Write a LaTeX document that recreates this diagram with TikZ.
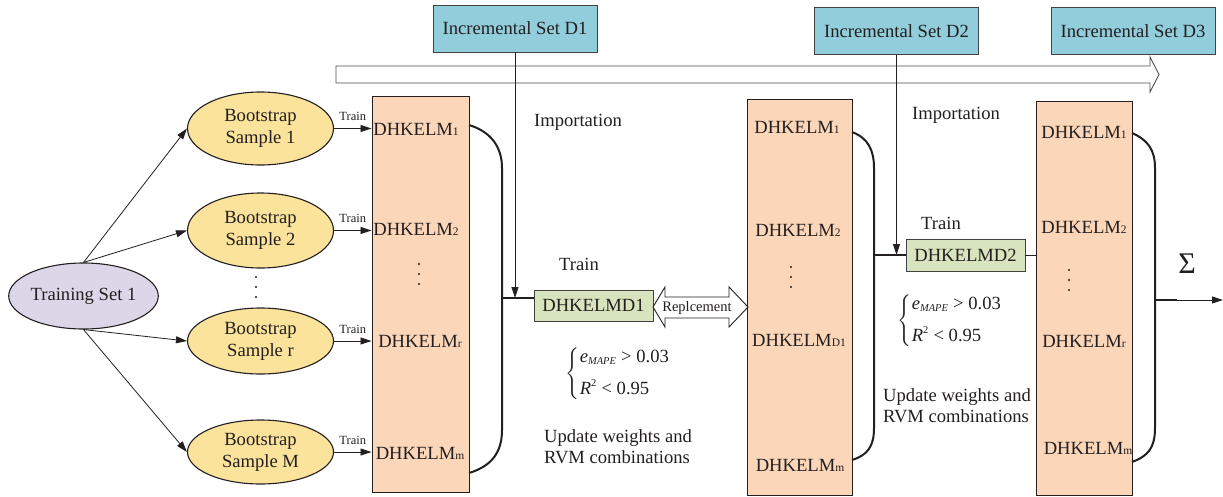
\documentclass[tikz,border=0pt]{standalone}
\usepackage{fontspec}
\setmainfont{Liberation Serif}
\usepackage{amsmath}
\usetikzlibrary{shapes.geometric,arrows.meta}
\definecolor{ink}{HTML}{231F20}
\definecolor{lav}{HTML}{DCD7E8}
\definecolor{boot}{HTML}{FBE39C}
\definecolor{peach}{HTML}{FBD6B8}
\definecolor{incb}{HTML}{92CDDC}
\definecolor{mdg}{HTML}{D7E4BD}
\newcommand\dk[1]{DHKELM{\fontsize{11.5}{11.5}\selectfont #1}}
\newcommand\conds{$\left\{\rule[-22pt]{0pt}{50pt}\begin{array}{@{}l@{}}
  \text{\textit{e}}_{\text{\fontsize{10.5}{10.5}\selectfont\textit{MAPE}}}\ \text{> 0.03}\\[10pt]
  \text{\textit{R}}^{\text{\fontsize{10.5}{10.5}\selectfont 2}}\ \text{< 0.95}
  \end{array}\right.$}
\begin{document}
\begin{tikzpicture}[x=1pt,y=-1pt,
  every node/.style={inner sep=0pt,text=ink},
  fz/.style={font=\fontsize{18.6}{22}\selectfont},
  smallfz/.style={font=\fontsize{12.5}{14}\selectfont},
  ellbox/.style={ellipse,draw=ink,line width=1.1pt,minimum width=146pt,
    minimum height=70pt,align=center,fz},
  colbox/.style={draw=ink,line width=0.9pt,fill=peach},
  incbox/.style={draw=ink!85,line width=0.9pt,fill=incb,minimum width=164pt,
    minimum height=47pt,fz},
  mdbox/.style={draw=ink!85,line width=0.9pt,fill=mdg,minimum width=119pt,
    minimum height=31pt,fz},
  arr/.style={-{Triangle[length=11pt,width=7pt]},line width=0.8pt,draw=ink},
  thickln/.style={line width=2.3pt,draw=ink},
  brk/.style={line width=2pt,draw=ink},
  lbl/.style={fz},
  twoline/.style={align=left,font=\fontsize{18.6}{21}\selectfont},
  dotmark/.style={fill=ink,radius=1.2pt}]
\useasboundingbox (0,0) rectangle (1223,496);

% wide hollow progress arrow
\draw[ink!80,line width=0.9pt] (336,66) -- (1150,66) -- (1150,57) -- (1159,74.5)
  -- (1150,92) -- (1150,83) -- (336,83) -- cycle;

% incremental data sets
\node[incbox] (inc1) at (515,28.5) {Incremental Set D1};
\node[incbox] (inc2) at (896.5,31) {Incremental Set D2};
\node[incbox] (inc3) at (1133,31) {Incremental Set D3};

% training set and bootstrap samples
\node[ellbox,fill=lav,minimum width=147pt,minimum height=66pt] (ts) at (83.5,296) {Training Set 1};
\node[ellbox,fill=boot,minimum height=73pt] (s1) at (260.5,128.5) {Bootstrap\\Sample 1};
\node[ellbox,fill=boot,minimum height=75pt] (s2) at (260.5,230.5) {Bootstrap\\Sample 2};
\node[ellbox,fill=boot,minimum height=66pt] (sr) at (260.5,341) {Bootstrap\\Sample r};
\node[ellbox,fill=boot,minimum height=64pt] (sm) at (260.5,452) {Bootstrap\\Sample M};
\foreach \y in {277,287,297} \fill[dotmark] (256,\y) circle;

\draw[arr] (ts.north) -- (s1.west);
\draw[arr] (ts.north) -- (s2.west);
\draw[arr] (ts.south) -- (sr.west);
\draw[arr] (ts.south) -- (sm.west);

% first ensemble column
\node[colbox,minimum width=97pt,minimum height=396pt] (r1) at (420.5,294) {};
\node[lbl] (a1) at (416,129) {\dk{1}};
\node[lbl] (a2) at (416,229) {\dk{2}};
\foreach \y in {264,274,284} \fill[dotmark] (419,\y) circle;
\node[lbl] (ar) at (420,341) {\dk{r}};
\node[lbl] (am) at (420,453) {\dk{m}};

\foreach \s/\t in {s1/t1,s2/t2,sr/tr,sm/tm}{
  \draw[arr] (\s.east) -- (\s.east -| r1.west)
    node[smallfz,pos=0.5,above=7pt] (\t) {Train};
}

% combining bracket of the first column
\draw[brk] (469,125) .. controls (492,132) and (502,148) .. (502,168)
  -- (502,430) .. controls (502,452) and (492,466) .. (469,473);
\coordinate (j1) at (502,298);

\node[mdbox] (md1) at (593.5,305.5) {DHKELMD1};
\draw[thickln] (j1) -- (j1 -| md1.west);
\draw[arr] (inc1.south) -- (inc1.south |- j1);
\node[lbl] (imp1) at (578,122) {Importation};
\node[lbl] (tr1) at (579,264) {Train};
\node[lbl] (c1) at (618,374) {\conds};
\node[twoline] (u1) at (618,447) {Update weights and\\RVM combinations};

% second ensemble column
\node[colbox,minimum width=105pt,minimum height=396pt] (r2) at (799.5,297) {};
\node[lbl] (b1) at (797,127) {\dk{1}};
\node[lbl] (b2) at (798,230) {\dk{2}};
\foreach \y in {267,277,287} \fill[dotmark] (791,\y) circle;
\node[lbl] (bx) at (799,340) {\dk{D1}};
\node[lbl] (bm) at (800,465) {\dk{m}};

% replacement double arrow
\draw[ink,line width=0.9pt,fill=white] (653,307) -- (665,287) -- (665,297) -- (729,297)
  -- (729,287) -- (748,307) -- (729,327) -- (729,318) -- (665,318) -- (665,327) -- cycle;
\node[font=\fontsize{14.5}{14.5}\selectfont] (rep) at (697,308) {Replcement};

% combining bracket of the second column
\draw[brk] (852,132) .. controls (868,138) and (874,150) .. (874,168)
  -- (874,428) .. controls (874,446) and (868,455) .. (852,460);
\coordinate (j2) at (874,255);

\node[mdbox,minimum height=32pt] (md2) at (965.5,255) {DHKELMD2};
\draw[thickln] (j2) -- (md2.west);
\draw[arr] (inc2.south) -- (inc2.south |- j2);
\node[lbl] (imp2) at (956,115) {Importation};
\node[lbl] (tr2) at (941,223) {Train};
\node[lbl] (c2) at (950,321) {\conds};
\node[twoline] (u2) at (957,406) {Update weights and\\RVM combinations};

% third ensemble column
\node[colbox,minimum width=96pt,minimum height=394pt] (r3) at (1084,298) {};
\draw[line width=0.8pt,ink] (md2.east) -- (md2.east -| r3.west);
\node[lbl] (c31) at (1084,132) {\dk{1}};
\node[lbl] (c32) at (1084,227) {\dk{2}};
\foreach \y in {270,280,290} \fill[dotmark] (1069,\y) circle;
\node[lbl] (c3r) at (1084,341) {\dk{r}};
\node[lbl] (c3m) at (1088,448) {\dk{m}};

% final combination and output
\draw[brk] (1132,133) .. controls (1148,140) and (1155,150) .. (1155,168)
  -- (1155,428) .. controls (1155,448) and (1148,456) .. (1132,462);
\coordinate (j3) at (1155,300);
\coordinate (j3b) at (1177,300);
\coordinate (out) at (1223,300);
\draw[thickln] (j3) -- (j3b);
\draw[arr] (j3b) -- (out);
\node[font=\fontsize{30}{30}\selectfont] (sig) at (1187,264) {Σ};
\end{tikzpicture}
\end{document}
